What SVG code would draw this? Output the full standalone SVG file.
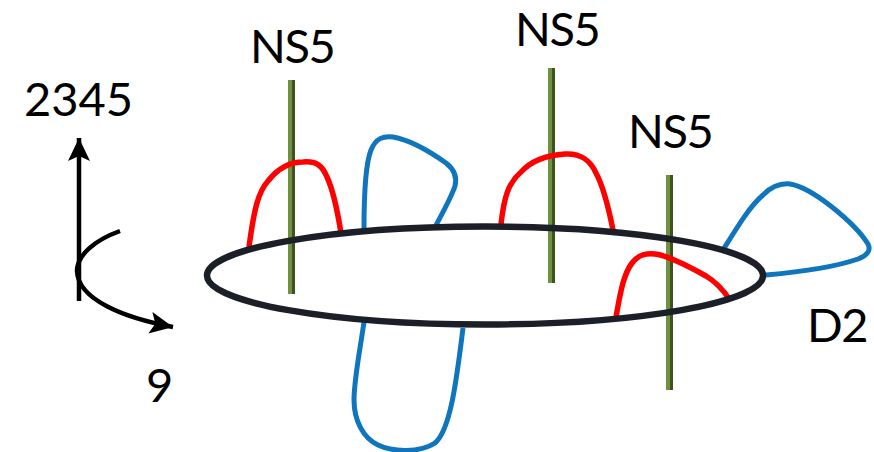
<svg xmlns="http://www.w3.org/2000/svg" width="874" height="452" viewBox="0 0 874 452">
<style>
.t{font-family:"Lato","Open Sans",sans-serif;font-size:47px;fill:#000}
.n{letter-spacing:-1.500px}
.red{fill:none;stroke:#ff0000;stroke-width:5.500}
.blue{fill:none;stroke:#0f75bd;stroke-width:5}
.rodL{fill:#70923e}.rodD{fill:#3f5224}
.ax{fill:none;stroke:#000;stroke-width:4.500}
</style>
<defs>
<marker id="a" markerUnits="userSpaceOnUse" markerWidth="26" markerHeight="24" refX="23" refY="11" orient="auto"><path d="M0 0L23 11L0 22L5 11Z" fill="#000"/></marker>
</defs>
<rect width="874" height="452" fill="#fff"/>
<g id="rod1"><rect class="rodL" x="288" y="80" width="4" height="214"/><rect class="rodD" x="292" y="80" width="3" height="214"/></g>
<g id="rod2"><rect class="rodL" x="548" y="68" width="4" height="215"/><rect class="rodD" x="552" y="68" width="3" height="215"/></g>
<g id="rod3"><rect class="rodL" x="666" y="175" width="4" height="215"/><rect class="rodD" x="670" y="175" width="3" height="215"/></g>
<g id="connectors">
<path class="red" d="M249 247C254 210 258 192 268 181C279 167 292 162 303 162C316 161 322 165 327 177C333 190 337 208 341 233"/>
<path class="blue" d="M364 229C364 195 365 165 371 150C376 138 383 136 393 137C410 140 432 153 446 163C455 170 457 178 455 186C451 198 443 212 435 227"/>
<path class="red" d="M501 224C504 198 508 183 521 172C532 160 549 155 565 154C581 153 590 160 596 173C603 186 608 205 613 230"/>
<path class="blue" d="M723 250C738 226 750 206 763 195C772 186 780 183 790 184C803 186 818 196 832 207C847 219 860 231 868 244C871 250 868 255 858 259C835 267 800 272 766 275"/>
<path class="blue" d="M364 322C360 350 354 380 354 400C354 420 363 438 378 445C392 452 420 453 435 443C450 430 456 385 463 328"/>
<path class="red" d="M616 317C620 295 623 275 632 263C638 255 645 253 655 254C670 256 690 267 706 276C716 282 724 291 730 300"/>
</g>
<g id="d2-ring"><ellipse cx="485" cy="275.500" rx="278" ry="49" fill="none" stroke="#1b1f27" stroke-width="6.500"/></g>
<g id="axes">
<path class="ax" d="M79 301V138" marker-end="url(#a)"/>
<path class="ax" d="M120 231C95 240 77 255 77 271C78 300 125 318 173 327" marker-end="url(#a)"/>
</g>
<g id="labels">
<text class="t n" x="250" y="63">NS5</text>
<text class="t n" x="515" y="46">NS5</text>
<text class="t n" x="628" y="148">NS5</text>
<text class="t" x="24" y="116">2345</text>
<text class="t" x="146" y="402">9</text>
<text class="t n" x="807" y="342">D2</text>
</g>
</svg>
